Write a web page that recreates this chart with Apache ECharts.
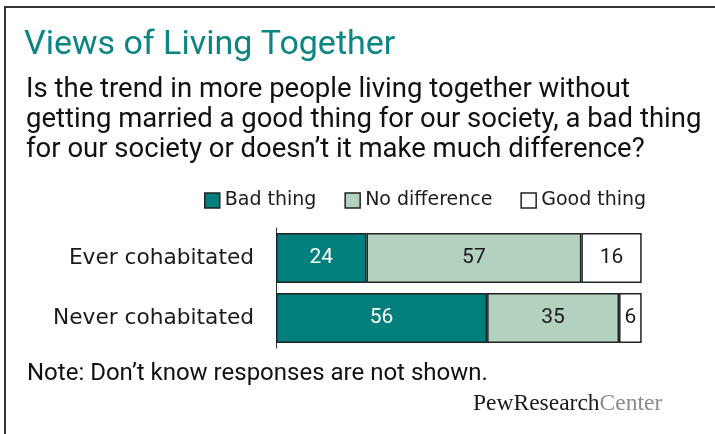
<!DOCTYPE html>
<html>
<head>
<meta charset="utf-8">
<script src="https://cdn.jsdelivr.net/npm/echarts@6/dist/echarts.min.js"></script>
<style>
  html, body { margin: 0; padding: 0; background: #fff; }
  #chart { width: 715px; height: 434px; }
</style>
</head>
<body>
<div id="chart"></div>
<script>
const titleText = 'Views of Living Together';
const questionText = 'Is the trend in more people living together without\ngetting married a good thing for our society, a bad thing\nfor our society or doesn\u2019t it make much difference?';
const noteText = 'Note: Don\u2019t know responses are not shown.';
const categories = ['Ever cohabitated', 'Never cohabitated'];
const seriesNames = ['Bad thing', 'No difference', 'Good thing'];
const badThing = [24, 56];
const noDifference = [57, 35];
const goodThing = [16, 6];

const colors = ['#007f7d', '#b3d1bf', '#ffffff'];
const labelColors = ['#ffffff', '#1a1a1a', '#1a1a1a'];
const values = [badThing, noDifference, goodThing];

const chart = echarts.init(document.getElementById('chart'), null, { renderer: 'canvas' });

const series = seriesNames.map((name, i) => ({
  name: name,
  type: 'bar',
  stack: 'total',
  barWidth: 50,
  data: values[i],
  itemStyle: { color: colors[i], borderColor: '#222', borderWidth: 1.5 },
  label: {
    show: true,
    position: 'inside',
    color: labelColors[i],
    fontFamily: 'Roboto',
    fontSize: 21
  }
}));

chart.setOption({
  animation: false,
  backgroundColor: '#ffffff',
  legend: {
    left: 204,
    top: 191,
    padding: 0,
    itemWidth: 15,
    itemHeight: 15,
    itemGap: 28,
    icon: 'rect',
    data: seriesNames,
    itemStyle: { borderColor: '#222', borderWidth: 1.5 },
    textStyle: { fontFamily: 'DejaVu Sans', fontSize: 19, color: '#1a1a1a' }
  },
  grid: { left: 276, right: 62, top: 228, height: 120, containLabel: false },
  xAxis: { type: 'value', min: 0, max: 100, show: false },
  yAxis: {
    type: 'category',
    data: categories,
    inverse: true,
    axisLine: { show: true, lineStyle: { color: '#333', width: 1 } },
    axisTick: { show: false },
    axisLabel: { color: '#1a1a1a', fontFamily: 'DejaVu Sans', fontSize: 21.7, margin: 22 }
  },
  series: series,
  graphic: [
    {
      type: 'rect', silent: true,
      shape: { x: 5, y: 7, width: 730, height: 460 },
      style: { fill: null, stroke: '#333', lineWidth: 2 }
    },
    {
      type: 'text', silent: true, x: 24, y: 45,
      style: { text: titleText, fill: '#0a8581', fontFamily: 'Roboto', fontSize: 34, verticalAlign: 'middle', align: 'left' }
    },
    {
      type: 'text', silent: true, x: 26, y: 120,
      style: { text: questionText, fill: '#111', fontFamily: 'Roboto', fontSize: 27.5, lineHeight: 30, verticalAlign: 'middle', align: 'left' }
    },
    {
      type: 'text', silent: true, x: 27, y: 374,
      style: { text: noteText, fill: '#111', fontFamily: 'Roboto', fontSize: 24, verticalAlign: 'middle', align: 'left' }
    },
    {
      type: 'text', silent: true, x: 473, y: 404,
      style: {
        text: '{a|PewResearch}{b|Center}',
        verticalAlign: 'middle', align: 'left',
        rich: {
          a: { fontFamily: 'Liberation Serif', fontSize: 23.5, fill: '#1a1a1a' },
          b: { fontFamily: 'Liberation Serif', fontSize: 23.5, fill: '#8a8a8a' }
        }
      }
    }
  ]
});
</script>
</body>
</html>
